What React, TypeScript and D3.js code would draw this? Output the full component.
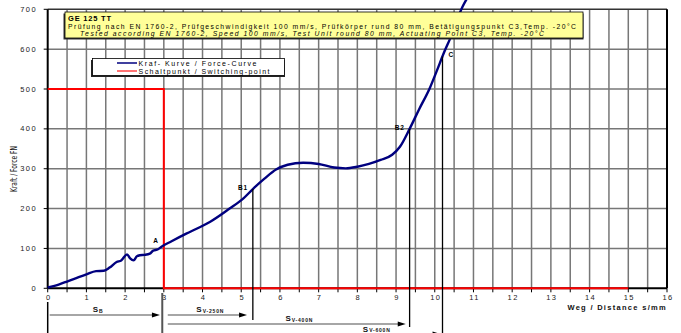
import React from "react";
import * as d3 from "d3";

// force curve (Weg s/mm, Kraft N)
const distance = [0, 0.3, 0.5, 0.8, 1.0, 1.25, 1.45, 1.6, 1.78, 1.9, 2.05, 2.13, 2.22, 2.3, 2.38, 2.5, 2.64, 2.72, 2.85, 2.95, 3.2, 3.58, 3.9, 4.2, 4.7, 5.05, 5.3, 5.6, 5.9, 6.2, 6.6, 7.0, 7.4, 7.7, 8.0, 8.3, 8.6, 8.9, 9.1, 9.35, 9.6, 9.87, 10.05, 10.25, 10.4, 10.72, 10.85];
const force = [2, 10, 17, 28, 35, 43, 44, 52, 66, 70, 85, 75, 70, 80, 83, 84, 87, 94, 98, 105, 118, 137, 152, 167, 200, 225, 249, 275, 298, 310, 315, 312, 303, 301, 305, 312, 322, 335, 355, 400, 450, 502, 545, 594, 627, 707, 730];

// switching point line
const switchX = [0, 3, 3, 15];
const switchY = [500, 500, 0, 0];

const xTicks = d3.range(0, 17);
const yTicks = [0, 100, 200, 300, 400, 500, 600, 700];

const markerNames = ["A", "B1", "B2", "C"];
const markerX = [3.0, 5.3, 9.35, 10.2];
const markerDrop = [0, 320, 327, 340];

const dimNames = ["B", "V-250N", "V-400N", "V-600N"];
const dimFrom = [0, 3.05, 3.05, 3.05];
const dimTo = [2.9, 5.15, 9.25, 10.15];
const dimLabelX = [1.3, 4.2, 6.5, 8.5];

const titleLines = [
  "GE 125 TT",
  "Prüfung nach EN 1760-2, Prüfgeschwindigkeit 100 mm/s, Prüfkörper rund 80 mm, Betätigungspunkt C3,Temp. -20°C",
  "Tested according EN 1760-2, Speed 100 mm/s, Test Unit round 80 mm, Actuating Point C3, Temp. -20°C",
];
const legendLabels = ["Kraf- Kurve / Force-Curve", "Schaltpunkt / Switching-point"];

const W = 681, H = 333;
const x = d3.scaleLinear().domain([0, 16]).range([47.7, 667]);
const y = d3.scaleLinear().domain([0, 700]).range([288.3, 9.3]);
const font = "'Liberation Sans', Arial, sans-serif";

const forceAt = (v: number) => {
  const i = d3.bisectLeft(distance, v);
  if (i <= 0) return force[0];
  const t = (v - distance[i - 1]) / (distance[i] - distance[i - 1]);
  return force[i - 1] + t * (force[i] - force[i - 1]);
};

export default function App() {
  const curve = d3.line<number>().x((_, i) => x(distance[i])).y((_, i) => y(force[i])).curve(d3.curveMonotoneX)(force);
  const sw = d3.line<number>().x((_, i) => x(switchX[i])).y((_, i) => y(switchY[i]))(switchY);
  const dimRowY = [315, 315, 324, 334];
  const dimLabY = [312, 312, 321, 331.5];

  return (
    <svg width={W} height={H} style={{ position: "absolute", left: 0, top: 0, background: "#fff" }}>
      {/* grid */}
      {d3.range(1, 32).map(k => (
        <line key={"gx" + k} x1={x(k / 2)} x2={x(k / 2)} y1={y(0)} y2={y(700)} stroke="#777777" strokeWidth={1.5} />
      ))}
      {yTicks.slice(1, -1).map(v => (
        <line key={"gy" + v} x1={x(0)} x2={x(16)} y1={y(v)} y2={y(v)} stroke="#777777" strokeWidth={1.5} />
      ))}
      <line x1={x(0)} x2={x(16)} y1={y(700)} y2={y(700)} stroke="#333" strokeWidth={1.5} />
      <line x1={x(16)} x2={x(16)} y1={y(0)} y2={y(700)} stroke="#000" strokeWidth={2} />
      {/* axes */}
      <line x1={x(0)} x2={x(0)} y1={y(0)} y2={y(700)} stroke="#000" strokeWidth={2} />
      <line x1={x(0)} x2={x(16)} y1={y(0)} y2={y(0)} stroke="#000" strokeWidth={2} />
      {d3.range(0, 33).map(k => (
        <line key={"tx" + k} x1={x(k / 2)} x2={x(k / 2)} y1={y(0)} y2={y(0) + 4} stroke="#000" strokeWidth={1} />
      ))}
      {yTicks.map(v => (
        <line key={"ty" + v} x1={x(0) - 4} x2={x(0)} y1={y(v)} y2={y(v)} stroke="#000" strokeWidth={1} />
      ))}
      {yTicks.map(v => (
        <text key={"yl" + v} x={37} y={y(v) + 2.5} textAnchor="end" fontFamily={font} fontSize={7.5} letterSpacing={1.4} fill="#222">{v}</text>
      ))}
      {xTicks.map(v => (
        <text key={"xl" + v} x={x(v) + 1} y={300} textAnchor="middle" fontFamily={font} fontSize={7.5} letterSpacing={1.4} fill="#222">{v}</text>
      ))}
      <text x={667} y={310} textAnchor="end" fontFamily={font} fontSize={7.5} fontWeight="bold" letterSpacing={1.3} fill="#111">Weg / Distance  s/mm</text>
      <text transform="translate(17,169) rotate(-90)" textAnchor="middle" fontSize={8} fontFamily="'Liberation Sans Narrow', 'DejaVu Sans Condensed', sans-serif" fill="#111">
        <tspan textLength={46} lengthAdjust="spacingAndGlyphs">Kraft / Force  FN</tspan>
      </text>
      {/* switching point */}
      <path d={sw ?? ""} fill="none" stroke="#ff0000" strokeWidth={2} />
      {/* force curve */}
      <path d={curve ?? ""} fill="none" stroke="#00007f" strokeWidth={2.4} strokeLinejoin="round" />
      {/* markers */}
      {markerNames.map((m, i) => {
        const px = x(markerX[i]);
        const py = y(forceAt(markerX[i]));
        return (
          <g key={m}>
            {i > 0 && <line x1={px} x2={px} y1={py} y2={markerDrop[i]} stroke="#000" strokeWidth={1.3} />}
            <text x={i === 3 ? px + 6 : px - 5} y={i === 0 ? py - 2 : py + 1} textAnchor={i === 3 ? "start" : "end"} fontFamily={font} fontSize={6.5} fontWeight="bold" letterSpacing={0.8}>{m}</text>
          </g>
        );
      })}
      {/* dimension arrows */}
      <line x1={x(0)} x2={x(0)} y1={302} y2={333} stroke="#000" strokeWidth={1.5} />
      <line x1={x(2.96)} x2={x(2.96)} y1={293} y2={333} stroke="#555" strokeWidth={2} />
      {dimNames.map((d, i) => {
        const x1 = x(dimFrom[i]) + 2, x2 = x(dimTo[i]), ry = dimRowY[i];
        return (
          <g key={d}>
            <line x1={x1} x2={x2 - 6} y1={ry} y2={ry} stroke="#888" strokeWidth={1.5} />
            <path d={`M${x2 - 8},${ry - 2.5}L${x2},${ry}L${x2 - 8},${ry + 2.5}Z`} fill="#000" />
            <text x={x(dimLabelX[i])} y={dimLabY[i]} textAnchor="middle" fontFamily={font} fontWeight="bold" fill="#111">
              <tspan fontSize={8} letterSpacing={1}>S</tspan>
              <tspan fontSize={5} letterSpacing={0.8} dy={0.5}>{d}</tspan>
            </text>
          </g>
        );
      })}
      {/* title box */}
      <rect x={63.5} y={13.5} width={520} height={26} fill="#333" />
      <rect x={65} y={12} width={518} height={26} fill="#ffff99" stroke="#000" strokeWidth={0.8} />
      <text x={68} y={21} fontFamily={font} fontSize={7.5} fontWeight="bold" letterSpacing={0.8}>{titleLines[0]}</text>
      <text x={68} y={28.5} fontFamily={font} fontSize={6.8} textLength={508} lengthAdjust="spacing">{titleLines[1]}</text>
      <text x={80} y={36} fontFamily={font} fontSize={6.8} fontStyle="italic" textLength={464} lengthAdjust="spacing">{titleLines[2]}</text>
      {/* legend */}
      <rect x={91} y={60} width={194} height={17} fill="#222" />
      <rect x={92.5} y={58.5} width={192} height={17} fill="#fff" stroke="#000" strokeWidth={0.8} />
      <line x1={117} x2={137} y1={63} y2={63} stroke="#00007f" strokeWidth={1.5} />
      <line x1={117} x2={137} y1={71} y2={71} stroke="#ff4444" strokeWidth={1.5} />
      <text x={138.5} y={65.5} fontFamily={font} fontSize={7} textLength={118} lengthAdjust="spacing">{legendLabels[0]}</text>
      <text x={138.5} y={73.5} fontFamily={font} fontSize={7} textLength={131} lengthAdjust="spacing">{legendLabels[1]}</text>
    </svg>
  );
}
